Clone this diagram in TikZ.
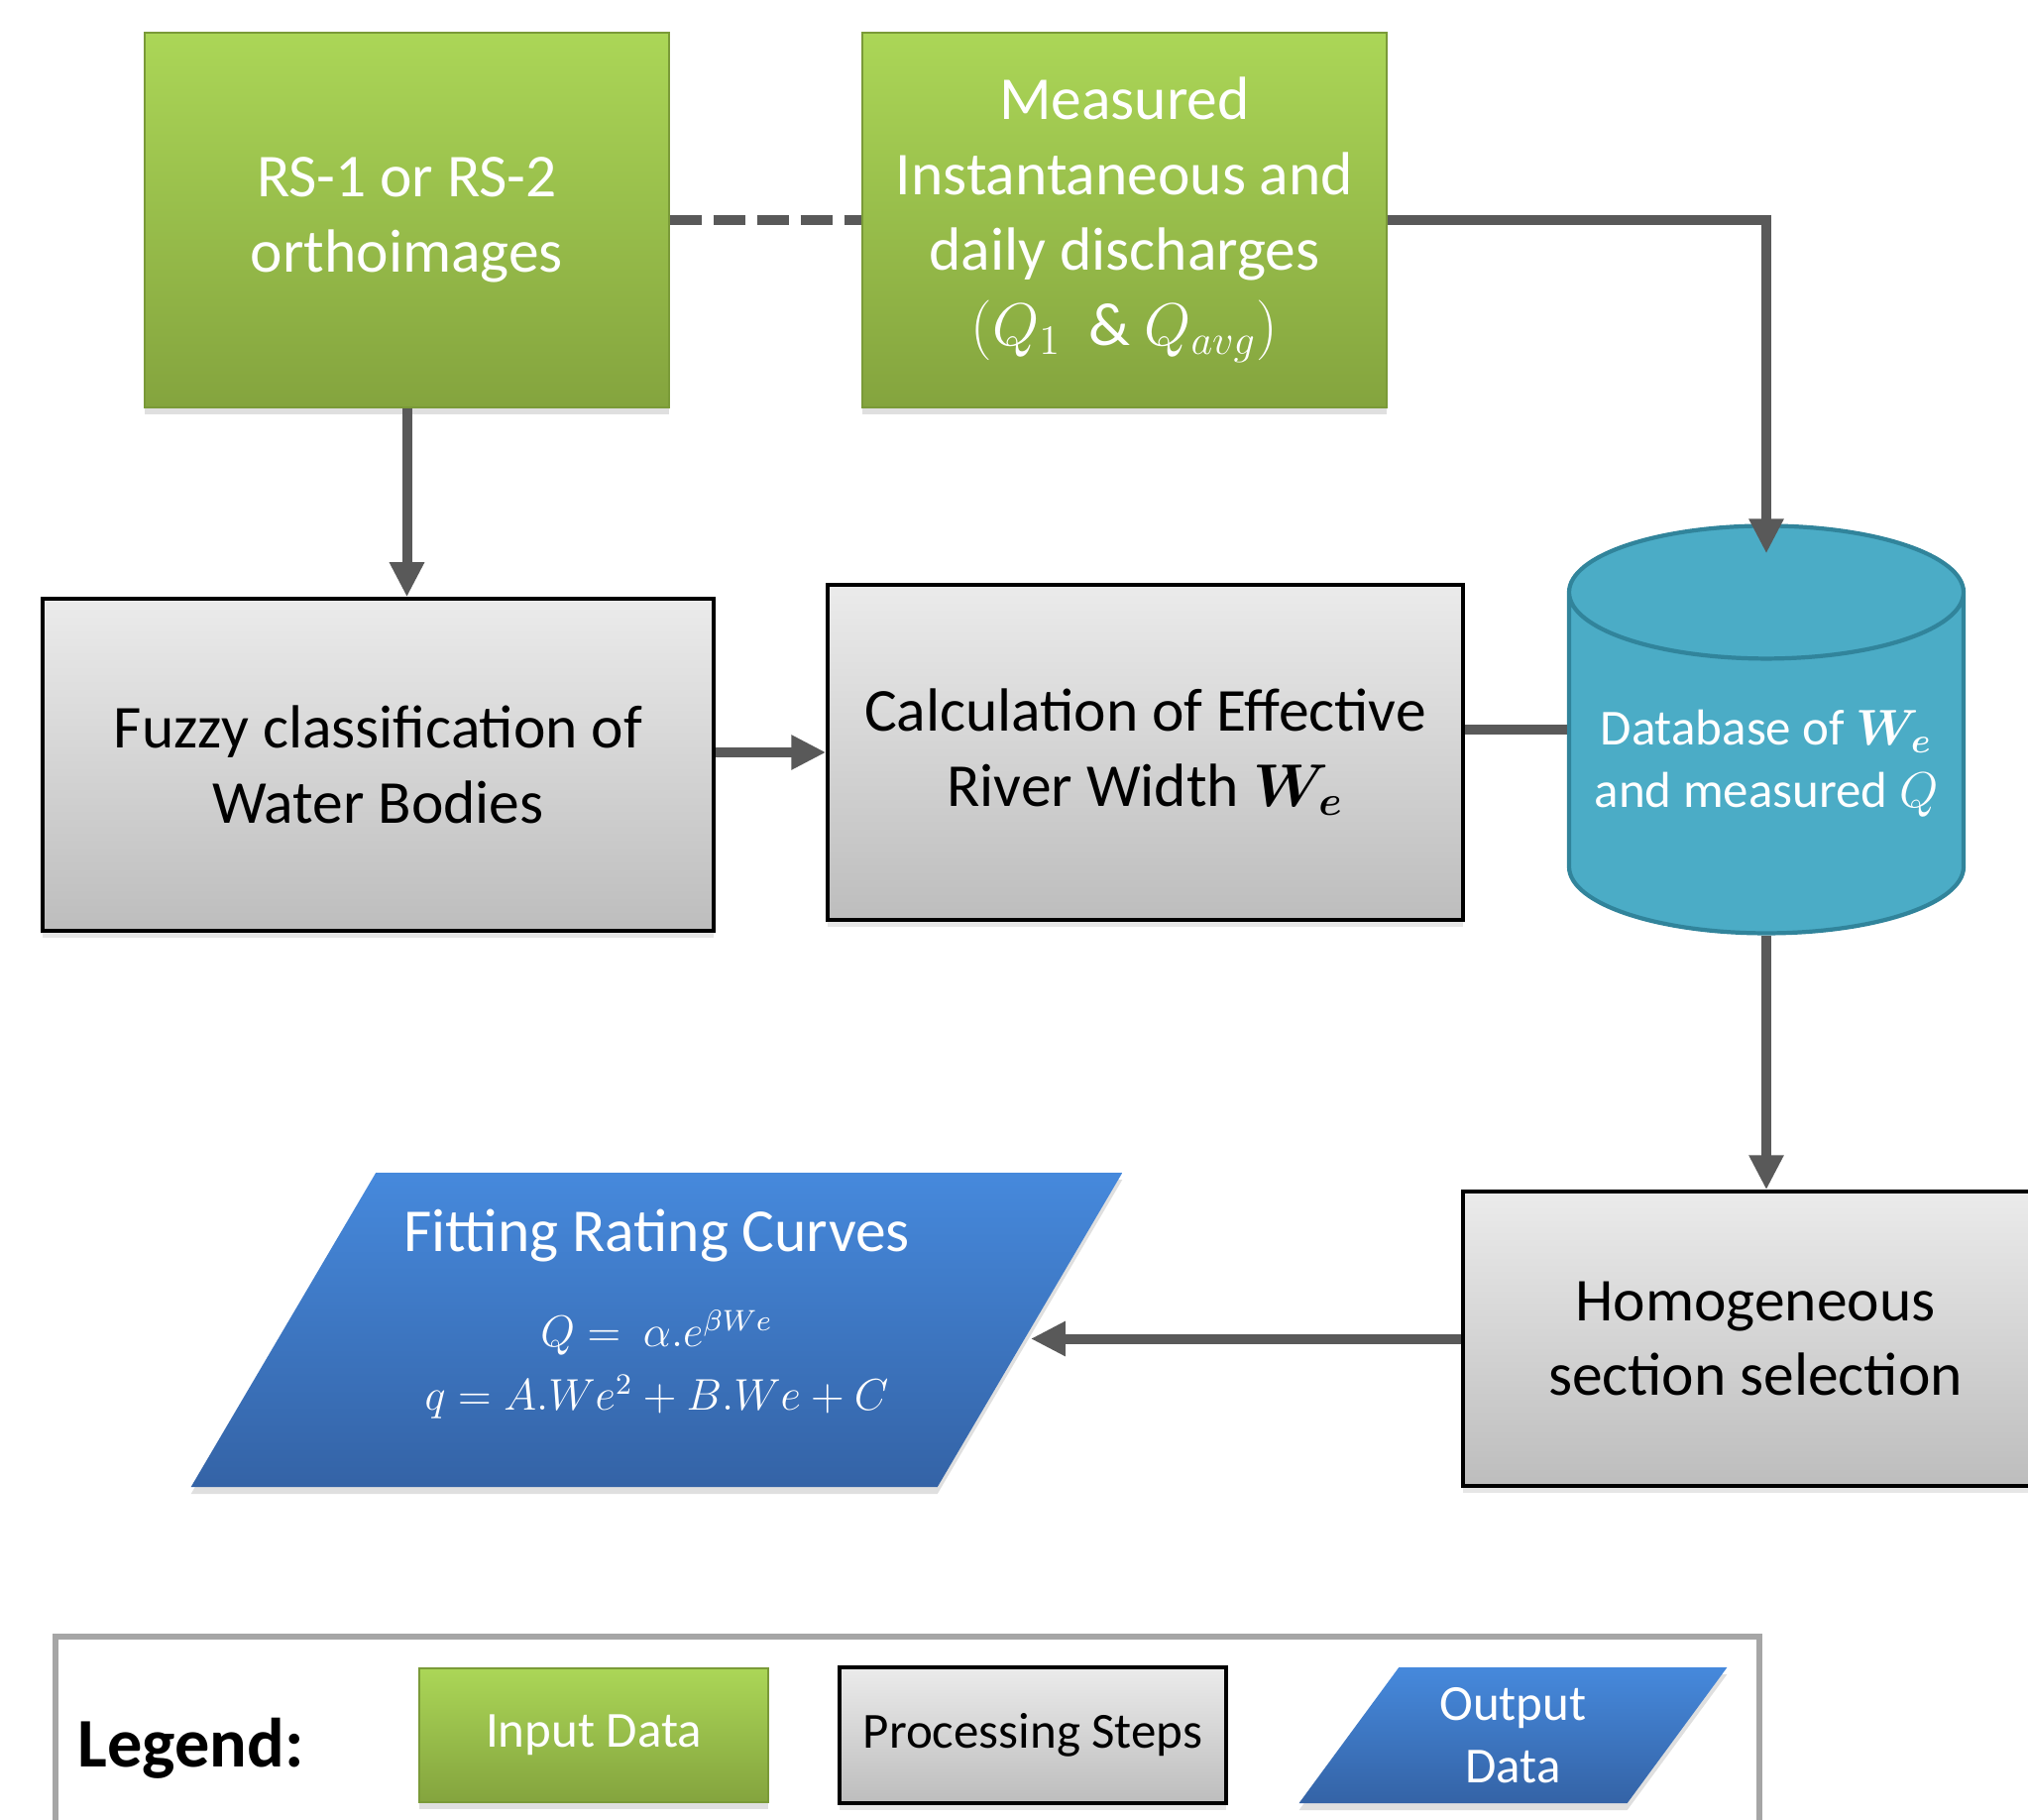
\documentclass[tikz,border=0pt]{standalone}
\usepackage{fontspec}
\setmainfont{Carlito}
\usepackage{bm}
\usepackage{graphicx}
\usetikzlibrary{shapes.geometric,arrows.meta,shadows}

\definecolor{inputtop}{HTML}{ABD657}
\definecolor{inputbot}{HTML}{84A43E}
\definecolor{inputedge}{HTML}{7A9A38}
\definecolor{proctop}{HTML}{EBEBEB}
\definecolor{procbot}{HTML}{BDBDBD}
\definecolor{outtop}{HTML}{4689DC}
\definecolor{outbot}{HTML}{3463A6}
\definecolor{dbfill}{HTML}{4BACC6}
\definecolor{dbedge}{HTML}{31849B}
\definecolor{arrowgray}{HTML}{595959}
\definecolor{legendgray}{HTML}{A6A6A6}

\newcommand{\boxfont}{\fontsize{17.5}{21.6}\selectfont}
\newcommand{\smallfont}{\fontsize{14.5}{18}\selectfont}
\newcommand{\formulafont}{\fontsize{12}{15}\selectfont}

\begin{document}
\begin{tikzpicture}[node distance=2cm, auto]
	% Node styles
	\tikzstyle{input} = [rectangle, draw=inputedge, top color=inputtop, bottom color=inputbot, text=white, align=center, font=\boxfont, minimum width=5.29cm, minimum height=3.78cm, drop shadow={shadow xshift=0cm, shadow yshift=-0.07cm, opacity=0.25}]
	\tikzstyle{process} = [rectangle, draw=black, line width=1pt, top color=proctop, bottom color=procbot, align=center, font=\boxfont, drop shadow={shadow xshift=0cm, shadow yshift=-0.07cm, opacity=0.2}]
	\tikzstyle{output} = [trapezium, trapezium left angle=56.5, trapezium right angle=123.5, trapezium stretches=true, top color=outtop, bottom color=outbot, text=white, align=center, font=\boxfont, drop shadow={shadow xshift=0cm, shadow yshift=-0.07cm, opacity=0.25}]
	\tikzstyle{database} = [cylinder, shape border rotate=90, aspect=0.34, draw=dbedge, line width=1.2pt, cylinder uses custom fill, cylinder body fill=dbfill, cylinder end fill=dbfill, inner sep=0pt, text width=3.94cm, minimum width=3.98cm, minimum height=4.11cm]
	\tikzstyle{line} = [draw=arrowgray, line width=0.1cm]
	\tikzstyle{arrow} = [line, -{Triangle[length=0.35cm, width=0.33cm]}]
	
	\useasboundingbox (0,0) rectangle (20.46,-18.36);
	
	% Nodes
	\node[input] (rs) at (4.105,-2.22) {RS-1 or RS-2\\orthoimages};
	\node[input, right of=rs, xshift=5.24cm] (meas) {Measured\\Instantaneous and\\daily discharges\\$(Q_1$\ \ \& $Q_{avg})$};
	\node[process, below of=rs, xshift=-0.29cm, yshift=-3.495cm, minimum width=6.77cm, minimum height=3.35cm] (fuzzy) {Fuzzy classification of\\Water Bodies};
	\node[process, right of=fuzzy, xshift=5.74cm, yshift=0.125cm, minimum width=6.41cm, minimum height=3.38cm] (calc) {Calculation of Effective\\River Width $\bm{W_e}$};
	\node[database, right of=calc, xshift=4.265cm, yshift=-0.115cm, label={[text=white, align=center, font=\smallfont]center:{Database of $\bm{W_e}$\\and measured $Q$}}] (cyl) {};
	\node[process, below of=cyl, xshift=-0.11cm, yshift=-3.8cm, minimum width=5.9cm, minimum height=2.97cm] (homog) {Homogeneous\\section selection};
	\node[output, left of=homog, xshift=-9.085cm, yshift=0.09cm, minimum width=9.43cm, minimum height=3.17cm] (fit) {Fitting Rating Curves\\[0.2cm]{\formulafont\scalebox{1.06}{$Q =\ \alpha.e^{\beta We}$}}\\[-0.12cm]{\formulafont\scalebox{1.06}{$q = A.We^2 + B.We + C$}\rule[-0.4cm]{0pt}{0pt}}};
	
	% Arrows
	\draw[line, dash pattern=on 0.32cm off 0.12cm] (rs.east) -- (meas.west);
	\draw[arrow] (meas.east) -| ([yshift=-0.3cm]cyl.north);
	\draw[arrow] (rs.south) -- (rs.south |- fuzzy.north);
	\draw[arrow] (fuzzy.east |- calc.west) -- (calc.west);
	\draw[line] (calc.east |- cyl.shape center) -- (cyl.west |- cyl.shape center);
	\draw[arrow] (cyl.south) -- (cyl.south |- homog.north);
	\draw[arrow] (homog.west) -- (fit.east |- homog.west);
	
	% Legend
	\draw[legendgray, line width=1.5pt] (0.56,-18.6) |- (17.75,-16.51) -- (17.75,-18.6);
	\node[input, minimum width=3.52cm, minimum height=1.35cm, font=\smallfont] (leginput) at (5.99,-17.505) {Input Data};
	\node[font=\fontsize{20}{24}\selectfont\bfseries, left of=leginput, xshift=-2.065cm, yshift=-0.135cm] (legtitle) {Legend:};
	\node[process, right of=leginput, xshift=2.43cm, minimum width=3.9cm, minimum height=1.37cm, font=\smallfont] (legproc) {Processing Steps};
	\node[output, right of=legproc, xshift=2.845cm, trapezium left angle=58, trapezium right angle=122, minimum width=4.33cm, minimum height=1.37cm, font=\smallfont] (legout) {Output\\Data};
\end{tikzpicture}
\end{document}
